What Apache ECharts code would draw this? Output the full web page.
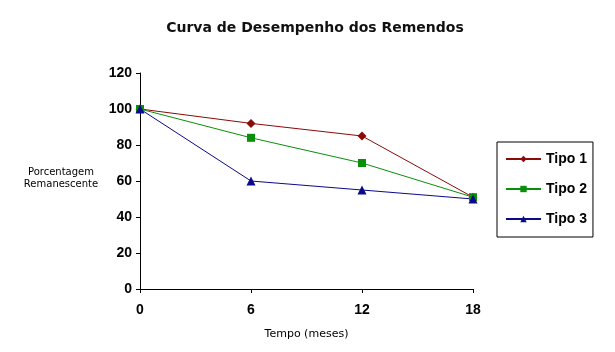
<!DOCTYPE html>
<html>
<head>
<meta charset="utf-8">
<script src="https://cdn.jsdelivr.net/npm/echarts@6/dist/echarts.min.js"></script>
<style>
html, body { margin: 0; padding: 0; background: #fff; }
#chart { width: 615px; height: 352px; }
</style>
</head>
<body>
<div id="chart"></div>
<script>
var meses = [0, 6, 12, 18];
var tipo1 = [100, 92, 85, 51];
var tipo2 = [100, 84, 70, 51];
var tipo3 = [100, 60, 55, 50];
var nomes = ['Tipo 1', 'Tipo 2', 'Tipo 3'];

function pares(valores) {
    var out = [];
    for (var i = 0; i < meses.length; i++) {
        out.push([meses[i], valores[i]]);
    }
    return out;
}

var chart = echarts.init(document.getElementById('chart'));

var option = {
    backgroundColor: '#fff',
    animation: false,
    title: {
        text: 'Curva de Desempenho dos Remendos',
        left: 310,
        top: 16,
        textAlign: 'center',
        textStyle: {
            fontFamily: 'DejaVu Sans',
            fontSize: 14,
            fontWeight: 'bold',
            color: '#111'
        }
    },
    legend: {
        orient: 'vertical',
        left: 497,
        top: 142,
        padding: [9, 6, 10, 8],
        borderColor: '#000',
        borderWidth: 1,
        itemWidth: 35,
        itemHeight: 8,
        itemGap: 14,
        data: nomes,
        textStyle: {
            fontFamily: 'Liberation Sans',
            fontSize: 14,
            fontWeight: 'bold',
            color: '#000',
            lineHeight: 16
        }
    },
    grid: {
        left: 140,
        right: 142,
        top: 73,
        bottom: 63
    },
    xAxis: {
        type: 'value',
        min: 0,
        max: 18,
        interval: 6,
        name: 'Tempo (meses)',
        nameLocation: 'middle',
        nameGap: 40,
        nameTextStyle: {
            fontFamily: 'DejaVu Sans',
            fontSize: 11,
            color: '#000'
        },
        axisLine: { lineStyle: { color: '#000', width: 1 } },
        axisTick: { show: true, length: 4, lineStyle: { color: '#000' } },
        splitLine: { show: false },
        axisLabel: {
            fontFamily: 'Liberation Sans',
            fontSize: 14,
            fontWeight: 'bold',
            color: '#000',
            margin: 14
        }
    },
    yAxis: {
        type: 'value',
        min: 0,
        max: 120,
        interval: 20,
        axisLine: { show: true, lineStyle: { color: '#000', width: 1 } },
        axisTick: { show: true, length: 4, lineStyle: { color: '#000' } },
        splitLine: { show: false },
        axisLabel: {
            fontFamily: 'Liberation Sans',
            fontSize: 14,
            fontWeight: 'bold',
            color: '#000',
            margin: 8
        }
    },
    graphic: [{
        type: 'text',
        x: 61,
        y: 166,
        style: {
            text: 'Porcentagem\nRemanescente',
            fontFamily: 'DejaVu Sans',
            fontSize: 10,
            lineHeight: 12,
            align: 'center',
            fill: '#000'
        }
    }],
    series: [
        {
            name: 'Tipo 1',
            type: 'line',
            data: pares(tipo1),
            symbol: 'diamond',
            symbolSize: 9,
            color: '#8b0a0a',
            lineStyle: { width: 1 }
        },
        {
            name: 'Tipo 2',
            type: 'line',
            data: pares(tipo2),
            symbol: 'rect',
            symbolSize: 8,
            color: '#0a8f0a',
            lineStyle: { width: 1 }
        },
        {
            name: 'Tipo 3',
            type: 'line',
            data: pares(tipo3),
            symbol: 'triangle',
            symbolSize: 9,
            color: '#0a0a8a',
            lineStyle: { width: 1 }
        }
    ]
};

chart.setOption(option);
</script>
</body>
</html>
